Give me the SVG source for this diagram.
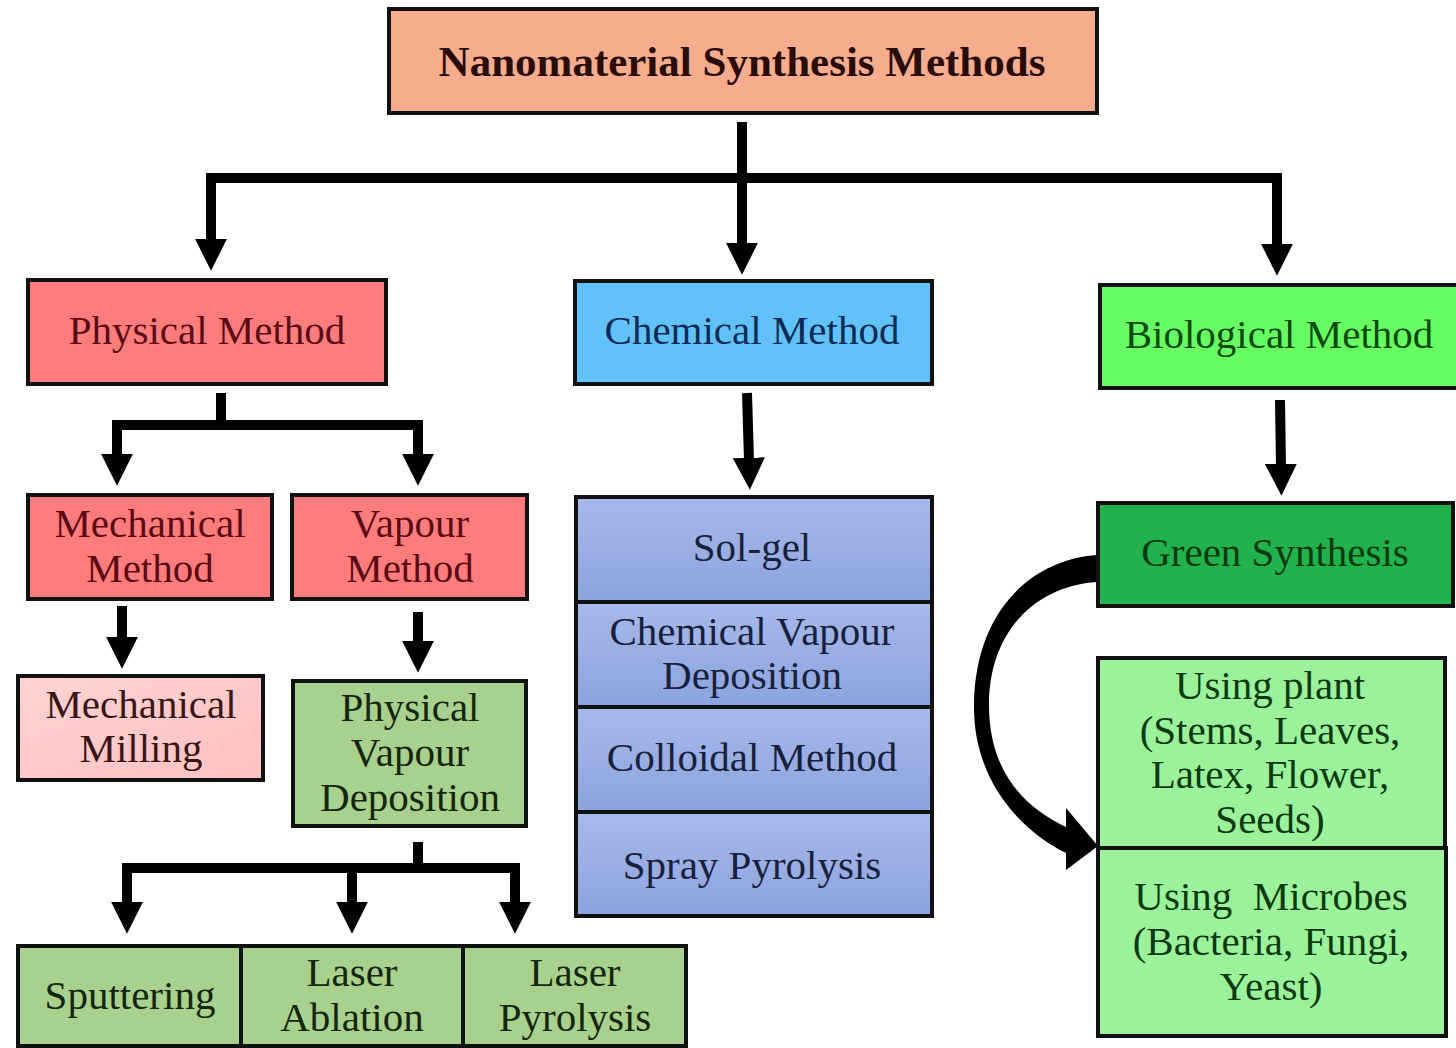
<svg xmlns="http://www.w3.org/2000/svg" width="1456" height="1048" viewBox="0 0 1456 1048">
<defs>
<marker id="ah" viewBox="0 0 10 10" refX="1" refY="5" markerWidth="3.2" markerHeight="3.2" orient="auto-start-reverse" markerUnits="strokeWidth">
<path d="M0,0 L10,5 L0,10 Z" fill="#000"/>
</marker>
<linearGradient id="chemg" x1="0" y1="0" x2="0" y2="1">
<stop offset="0" stop-color="#a8b9ea"/>
<stop offset="1" stop-color="#8ca3de"/>
</linearGradient>
<linearGradient id="millg" x1="0" y1="0" x2="1" y2="1">
<stop offset="0" stop-color="#ffd3d3"/>
<stop offset="1" stop-color="#ffc0c0"/>
</linearGradient>
</defs>
<style>
.box{stroke:#111;stroke-width:4}
.t{font-family:"Liberation Serif","Times New Roman",serif;font-size:41px;text-anchor:middle}
.title{font-weight:bold;font-size:43px;fill:#2a0c08}
.red{fill:#ff7c7c}
.redt{fill:#5a0b14}
.olive{fill:#a9d18e}
.olivet{fill:#15260c}
.chem{fill:url(#chemg)}
.chemt{fill:#17213c}
.lg{fill:#9bf29b}
.lgt{fill:#0a3a10}
.conn{stroke:#000;stroke-width:10;fill:none;stroke-linejoin:miter}
</style>
<rect width="1456" height="1048" fill="#fff"/>

<g id="connectors">
<path class="conn" d="M742,122 L742,246" marker-end="url(#ah)"/>
<path class="conn" d="M211,242 L211,178 L1277,178 L1277,247" marker-start="url(#ah)" marker-end="url(#ah)"/>
<path class="conn" d="M221,393 L221,425"/>
<path class="conn" d="M117,457 L117,425 L418,425 L418,457" marker-start="url(#ah)" marker-end="url(#ah)"/>
<path class="conn" d="M122,606 L122,640" marker-end="url(#ah)"/>
<path class="conn" d="M418,612 L418,644" marker-end="url(#ah)"/>
<path class="conn" d="M418,842 L418,868"/>
<path class="conn" d="M127,905 L127,868 L515,868 L515,905" marker-start="url(#ah)" marker-end="url(#ah)"/>
<path class="conn" d="M352,868 L352,905" marker-end="url(#ah)"/>
<path class="conn" d="M747,393 L749,461" marker-end="url(#ah)"/>
<path class="conn" d="M1280,400 L1281,467" marker-end="url(#ah)"/>
<path d="M1097,555 C1030,560 975,612 974,705 C973,780 1020,830 1066,853 L1066,870 L1098,846 L1066,808 L1066,827 C1025,808 989,772 989,705 C989,632 1035,586 1097,582 Z" fill="#000"/>
</g>

<g id="title">
<rect class="box" x="389" y="9" width="708" height="104" fill="#f7ac8e"/>
<text class="t title" x="742" y="76">Nanomaterial Synthesis Methods</text>
</g>

<g id="physical">
<rect class="box red" x="28" y="280" width="358" height="104"/>
<text class="t redt" x="207" y="344">Physical Method</text>
</g>

<g id="chemical">
<rect class="box" x="575" y="281" width="357" height="103" fill="#60c2f8"/>
<text class="t" x="752" y="344" fill="#0c2b55">Chemical Method</text>
</g>

<g id="biological">
<rect class="box" x="1100" y="285" width="362" height="103" fill="#67fc61"/>
<text class="t" x="1279" y="348" fill="#064a0c">Biological Method</text>
</g>

<g id="mechanical">
<rect class="box red" x="28" y="495" width="244" height="104"/>
<text class="t redt" x="150" y="537">Mechanical</text>
<text class="t redt" x="150" y="582">Method</text>
</g>

<g id="vapour">
<rect class="box red" x="292" y="495" width="235" height="104"/>
<text class="t redt" x="410" y="537">Vapour</text>
<text class="t redt" x="410" y="582">Method</text>
</g>

<g id="milling">
<rect class="box" x="18" y="676" width="245" height="104" fill="url(#millg)"/>
<text class="t" x="141" y="718" fill="#3a1616">Mechanical</text>
<text class="t" x="141" y="762" fill="#3a1616">Milling</text>
</g>

<g id="pvd">
<rect class="box olive" x="293" y="681" width="233" height="145"/>
<text class="t olivet" x="410" y="721">Physical</text>
<text class="t olivet" x="410" y="766">Vapour</text>
<text class="t olivet" x="410" y="811">Deposition</text>
</g>

<g id="sputtering">
<rect class="box olive" x="18" y="946" width="223" height="100"/>
<text class="t olivet" x="130" y="1009">Sputtering</text>
</g>

<g id="laser-ablation">
<rect class="box olive" x="241" y="946" width="222" height="100"/>
<text class="t olivet" x="352" y="986">Laser</text>
<text class="t olivet" x="352" y="1031">Ablation</text>
</g>

<g id="laser-pyrolysis">
<rect class="box olive" x="463" y="946" width="223" height="100"/>
<text class="t olivet" x="575" y="986">Laser</text>
<text class="t olivet" x="575" y="1031">Pyrolysis</text>
</g>

<g id="sol-gel">
<rect class="box chem" x="576" y="497" width="356" height="105"/>
<text class="t chemt" x="752" y="561">Sol-gel</text>
</g>

<g id="cvd">
<rect class="box chem" x="576" y="602" width="356" height="105"/>
<text class="t chemt" x="752" y="645">Chemical Vapour</text>
<text class="t chemt" x="752" y="689">Deposition</text>
</g>

<g id="colloidal">
<rect class="box chem" x="576" y="707" width="356" height="105"/>
<text class="t chemt" x="752" y="771">Colloidal Method</text>
</g>

<g id="spray">
<rect class="box chem" x="576" y="812" width="356" height="104"/>
<text class="t chemt" x="752" y="879">Spray Pyrolysis</text>
</g>

<g id="green">
<rect class="box" x="1098" y="503" width="355" height="103" fill="#22b24c"/>
<text class="t" x="1275" y="566" fill="#0a3a14">Green Synthesis</text>
</g>

<g id="plant">
<rect class="box lg" x="1098" y="658" width="347" height="190"/>
<text class="t lgt" x="1270" y="699">Using plant</text>
<text class="t lgt" x="1270" y="744">(Stems, Leaves,</text>
<text class="t lgt" x="1270" y="788">Latex, Flower,</text>
<text class="t lgt" x="1270" y="833">Seeds)</text>
</g>

<g id="microbes">
<rect class="box lg" x="1098" y="848" width="348" height="188"/>
<text class="t lgt" x="1271" y="910" xml:space="preserve">Using  Microbes</text>
<text class="t lgt" x="1271" y="955">(Bacteria, Fungi,</text>
<text class="t lgt" x="1271" y="1000">Yeast)</text>
</g>
</svg>
